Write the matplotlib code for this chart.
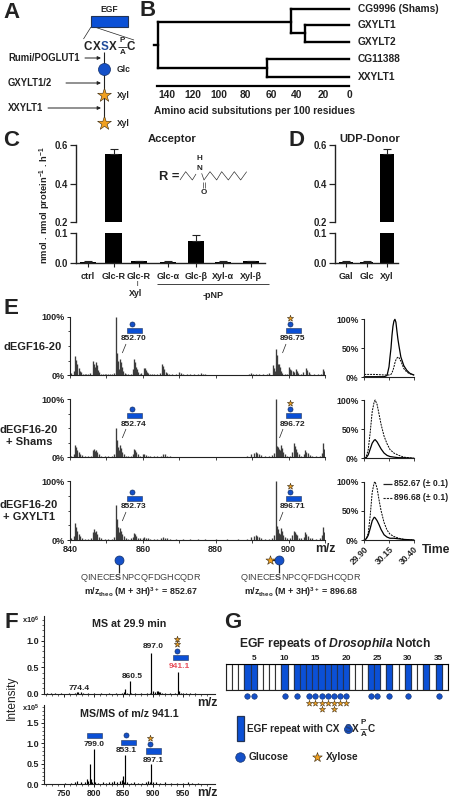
import numpy as np
import matplotlib
matplotlib.use('Agg')
import matplotlib.pyplot as plt
from matplotlib.patches import Rectangle

plt.rcParams['font.family'] = ['Liberation Sans', 'DejaVu Sans']
plt.rcParams['font.weight'] = 'bold'
plt.rcParams['axes.labelweight'] = 'bold'
plt.rcParams['mathtext.fontset'] = 'custom'
plt.rcParams['mathtext.rm'] = 'Liberation Sans:bold'
plt.rcParams['mathtext.bf'] = 'Liberation Sans:bold'
plt.rcParams['mathtext.it'] = 'Liberation Sans:italic:bold'
plt.rcParams['mathtext.default'] = 'regular'
plt.rcParams['axes.linewidth'] = 0.8

# ---------- DATA ----------
tree_ticks = [140, 120, 100, 80, 60, 40, 20, 0]
leaf_names = ['CG9996 (Shams)', 'GXYLT1', 'GXYLT2', 'CG11388', 'XXYLT1']
node_root = 147
node_upper = 45
node_gxylt = 34
node_lower = 63

acceptors = ['ctrl', 'Glc-R', 'Glc-R', 'Glc-α', 'Glc-β', 'Xyl-α', 'Xyl-β']
acceptor_vals = [0.005, 0.555, 0.006, 0.005, 0.073, 0.005, 0.006]
acceptor_err = [0.003, 0.025, 0.003, 0.002, 0.020, 0.002, 0.003]
donors = ['Gal', 'Glc', 'Xyl']
donor_vals = [0.005, 0.005, 0.555]
donor_err = [0.002, 0.002, 0.025]

ms1_mz = [840.3,841.0,841.4,841.7,842.0,842.4,842.7,843.1,843.5,844,844.5,845,845.6,846.2,846.5,846.8,847.1,847.4,847.7,848,848.5,849,849.5,850,850.5,851,851.5,852,852.6,852.8,853.1,853.4,853.7,854,854.3,854.6,855,855.5,856,856.7,857.3,857.5,857.8,858.1,858.4,858.8,859.2,859.6,860.2,860.5,860.8,861.1,861.5,862,862.5,863,864,864.7,865.3,865.6,865.9,866.3,866.7,867.2,868,869,870,870.4,871,872,873,874,875,876,876.4,877,878,880,882,884,886,888,889,889.7,890.2,891,892,893,894,894.7,895.6,895.9,896.2,896.5,896.8,897.1,897.3,897.6,897.9,898.2,899,899.5,900.2,900.5,900.8,901.2,901.6,902,902.3,902.7,903.3,904,904.8,905.1,905.5,906,907,908,908.8,909.5,909.7]
ms1_int = [4,8,33,26,20,13,8,5,3,2,2,3,4,25,19,14,23,17,9,5,3,2,2,3,3,2,3,4,100,38,25,10,27,22,14,8,4,3,2,3,10,27,22,15,10,5,3,4,13,12,9,6,4,3,2,2,2,4,20,16,11,6,4,3,2,2,5,4,3,2,3,2,2,4,3,2,1,1,1,1,1,1,2,4,3,3,2,2,2,4,17,12,8,45,34,20,20,14,8,4,2,2,15,11,9,7,6,10,7,4,3,5,12,9,6,3,2,2,3,10,7]
ms2_mz = [840.3,841,841.4,841.7,842,842.4,842.8,843.3,844,845,845.7,846.2,846.5,846.8,847.1,847.5,848,848.6,849.5,850.5,851.5,852.1,852.6,852.8,853.1,853.4,853.7,854,854.4,854.8,855.3,856,856.8,857.3,857.6,857.9,858.2,858.6,859.2,860,860.4,860.8,861.3,862,863,864,865,865.5,866,866.6,867.5,869,871,873,875,877,880,883,886,888.5,889.8,890.5,891,891.4,891.8,892.4,893.5,894.5,895.5,896,896.5,896.7,897,897.3,897.6,897.9,898,898.3,898.6,899,899.6,900.4,901,901.4,901.7,902,902.4,902.9,903.5,904.2,904.6,904.9,905.3,905.8,906.5,907.5,908.5,909.2,909.5,909.7]
ms2_int = [3,6,21,17,13,9,6,4,2,2,3,12,14,11,13,9,5,3,2,2,2,5,50,30,18,12,22,16,10,6,3,2,3,6,15,12,9,5,3,5,5,4,3,2,2,2,3,5,5,3,2,1,1,1,1,1,1,1,1,2,5,7,9,8,6,4,3,2,4,8,100,20,18,14,12,10,21,16,10,5,3,3,10,24,19,15,10,5,3,6,12,10,7,4,3,2,3,8,24,15]
ms3_mz = list(ms2_mz)
ms3_int = [3,6,28,22,16,10,6,4,2,2,3,14,18,14,15,10,5,3,2,2,2,5,59,35,22,14,20,16,10,6,3,2,3,5,12,10,7,4,3,4,5,4,3,2,2,2,3,5,4,3,2,1,1,1,1,1,1,1,1,2,5,6,8,7,5,3,2,2,4,8,100,24,18,12,10,8,20,15,9,5,3,3,8,16,14,11,8,4,3,5,14,11,7,4,3,2,3,8,22,14]

lc_t1 = [29.90,30.00,30.10,30.13,30.15,30.16,30.17,30.18,30.19,30.20,30.21,30.22,30.23,30.24,30.25,30.27,30.30,30.33,30.36,30.40]
lc1_solid = [1,1,1,3,18,35,50,72,88,97,100,95,80,66,55,35,20,12,7,4]
lc1_dash = [5,5,4,4,4,4,5,8,12,18,25,30,33,35,34,28,15,9,6,4]
lc_t2 = [29.90,29.92,29.94,29.96,29.98,30.00,30.01,30.03,30.05,30.07,30.10,30.13,30.16,30.20,30.25,30.30,30.40]
lc2_dash = [0,3,15,45,80,97,100,92,75,58,38,25,15,9,5,2,0]
lc2_solid = [0,1,6,16,26,31,32,28,22,16,9,5,3,2,1,1,0]
lc3_dash = [0,2,12,42,82,98,100,88,68,50,30,17,10,6,3,1,0]
lc3_solid = [0,2,8,20,33,39,38,33,26,18,9,5,3,3,2,1,0]
lc_ticks = [29.90, 30.15, 30.40]

msf_mz = [722,728,735,745,758,768,772,774.4,778,782,790,800,812,825,838,847,851,853,856,860.5,863,870,880,890,894,897,899,903,906,908,910,912,915,920,928,936,941,943,946,950,955,962,970]
msf_int = [.02,.01,.01,.01,.01,.02,.03,.04,.03,.02,.01,.01,.01,.01,.01,.02,.03,.08,.02,.24,.02,.01,.01,.01,.02,.77,.05,.03,.05,.06,.04,.03,.02,.02,.01,.02,.42,.05,.02,.02,.02,.01,.01]
msms_mz = [745,752,762,768,772,778,785,789,791,793.6,795,797,800,803,808,815,820,825,830,835,840,845,847,849,851,853,856,862,868,875,882,888,892,894,897,899,905,912,920,930,940,950,958,965,975]
msms_int = [.01,.02,.03,.05,.07,.04,.05,.12,.08,.49,.13,.04,.87,.05,.03,.04,.03,.05,.04,.07,.04,.08,.10,.19,.06,.72,.05,.03,.04,.02,.03,.04,.08,.05,.50,.06,.04,.03,.04,.03,.02,.03,.05,.03,.02]

egf_total = 36
egf_blue = [4,5,10,12,13,14,15,16,17,18,19,20,24,25,27,30,33,35]
egf_glc = [4,5,10,12,14,15,16,17,18,19,20,24,25,27,30,35]
egf_xyl1 = [14,15,16,17,18,19,20]
egf_xyl2 = [16,18]
egf_labels = [5,10,15,20,25,30,35]

# ---------- STYLE / HELPERS ----------
W, H = 453, 800
FS = 1.16
INK = '#222222'
BLUE = '#0b50d6'
GLC = '#1550c8'
GOLD = '#f0a020'
fig = plt.figure(figsize=(W/100, H/100), dpi=100)


def axpx(x0, y0, x1, y1, **kw):
    a = fig.add_axes([x0/W, 1-y1/H, (x1-x0)/W, (y1-y0)/H], **kw)
    a.patch.set_alpha(0)
    for s in ['top', 'right']:
        a.spines[s].set_visible(False)
    for s in ['left', 'bottom']:
        a.spines[s].set_color(INK)
    return a


ov = fig.add_axes([0, 0, 1, 1], zorder=20)
ov.set_xlim(0, W)
ov.set_ylim(H, 0)
ov.axis('off')


def T(x, y, s, size=6, ha='center', va='center', color=INK, **kw):
    return ov.text(x, y, s, fontsize=size*FS, ha=ha, va=va, color=color, **kw)


def L(xs, ys, lw=0.8, color=INK, **kw):
    ov.plot(xs, ys, lw=lw, color=color, solid_capstyle='butt', **kw)


def rect(x0, y0, x1, y1, lw=0.7):
    ov.add_patch(Rectangle((x0, y0), x1-x0, y1-y0, fc=BLUE, ec='#223355', lw=lw, zorder=5))


def circ(x, y, d):
    ov.scatter([x], [y], s=(d*.72)**2, c=GLC, edgecolors='#12306a', linewidths=0.5, zorder=6)


def star(x, y, d):
    ov.scatter([x], [y], s=(d*.72)**2, c=GOLD, marker='*', edgecolors='#3a2a10', linewidths=0.4, zorder=6)


def arrow(x0, x1, y):
    ov.annotate('', xy=(x1, y), xytext=(x0, y),
                arrowprops=dict(arrowstyle='-|>', color=INK, lw=0.7, mutation_scale=5, shrinkA=0, shrinkB=0))


for lab, x, y in [('A', 11, 12), ('B', 148, 11), ('C', 11, 141), ('D', 297, 141),
                  ('E', 11, 308), ('F', 11, 622), ('G', 233, 622)]:
    T(x, y, lab, size=13.8)

# ---------- A ----------
T(109, 9, 'EGF', 5.3)
rect(91, 16, 127.5, 26.5, lw=0.8)
L([91, 83.5], [27, 39], lw=0.5)
L([96, 134], [27.5, 40], lw=0.5)
for x, s, c in [(87.5, 'C', INK), (96.5, 'X', INK), (104.3, 'S', '#1f4a9a'), (112.7, 'X', INK), (131, 'C', INK)]:
    T(x, 47, s, 7.2, color=c)
T(122.5, 40.5, 'P', 5)
T(122.5, 53, 'A', 5)
L([118, 127], [46.7, 46.7], lw=0.6)
L([104.3, 104.3], [52, 123], lw=0.8)
circ(104.3, 69, 12)
star(104.3, 95, 14.5)
star(104.3, 123, 14.5)
T(117, 69, 'Glc', 5.3, ha='left')
T(117, 95, 'Xyl', 5.3, ha='left')
T(117, 123, 'Xyl', 5.3, ha='left')
T(8, 58, 'Rumi/POGLUT1', 5.9, ha='left')
T(8, 83, 'GXYLT1/2', 5.9, ha='left')
T(8, 108, 'XXYLT1', 5.9, ha='left')
arrow(85, 101, 58)
arrow(66, 101, 83)
arrow(48, 101, 108)

# ---------- B ----------
axb = axpx(157, 2, 349, 86)
axb.set_xlim(147.7, 0)
axb.set_ylim(84, 0)
lv = [6.5, 22.5, 40, 57, 75]   # row placement of the five leaves
tw = dict(color='black', lw=1.7, solid_capstyle='projecting', clip_on=False)
top_mid = (lv[1]+lv[2])/2
axb.plot([node_upper, 0], [lv[0], lv[0]], **tw)
axb.plot([node_gxylt, 0], [lv[1], lv[1]], **tw)
axb.plot([node_gxylt, 0], [lv[2], lv[2]], **tw)
axb.plot([node_lower, 0], [lv[3], lv[3]], **tw)
axb.plot([node_lower, 0], [lv[4], lv[4]], **tw)
axb.plot([node_gxylt, node_gxylt], [lv[1], lv[2]], **tw)
axb.plot([node_upper, node_gxylt], [top_mid, top_mid], **tw)
axb.plot([node_upper, node_upper], [lv[0], top_mid], **tw)
axb.plot([node_lower, node_lower], [lv[3], lv[4]], **tw)
axb.plot([node_root, node_upper], [20, 20], **tw)
axb.plot([node_root, node_lower], [66, 66], **tw)
axb.plot([node_root, node_root], [20, 66], **tw)
axb.plot([node_root+3, node_root], [43, 43], **tw)
for n, y in zip(leaf_names, lv):
    axb.text(-7, y, n, fontsize=6.3*FS, va='center', ha='left', color=INK, clip_on=False)
axb.spines['left'].set_visible(False)
axb.spines['bottom'].set_linewidth(1.6)
axb.spines['bottom'].set_color('black')
axb.set_yticks([])
axb.set_xticks(tree_ticks)
axb.set_xticklabels(tree_ticks, fontsize=6.4*FS, color=INK)
axb.tick_params(axis='x', length=0, pad=3)
T(254, 110.7, 'Amino acid subsitutions per 100 residues', 6.3)

# ---------- C / D ----------
def bars(x0, x1, names, vals, errs, slots, unit, first_px, width):
    xl = ((x0-first_px)/unit, (x1-first_px)/unit)
    up = axpx(x0, 145, x1, 222)
    lo = axpx(x0, 233.3, x1, 263.3)
    for a, lim in ((up, (0.2, 0.6)), (lo, (0, 0.1))):
        a.bar(slots, vals, width=width, color='black')
        a.errorbar(slots, vals, yerr=[np.zeros(len(vals)), errs], fmt='none', ecolor=INK,
                   elinewidth=0.8, capsize=2.6, capthick=0.8)
        a.set_xlim(*xl)
        a.set_ylim(*lim)
        a.tick_params(axis='y', length=4, width=0.9, labelsize=6*FS, pad=1.5, labelcolor=INK, color=INK)
        a.spines['left'].set_linewidth(1)
    up.spines['bottom'].set_visible(False)
    up.set_xticks([])
    up.set_yticks([0.2, 0.4, 0.6])
    lo.set_yticks([0.0, 0.1])
    lo.spines['bottom'].set_linewidth(1)
    lo.set_xticks(slots)
    lo.set_xticklabels(names, fontsize=5.6*FS, color=INK)
    lo.tick_params(axis='x', length=3, width=0.8, pad=3, color=INK)


bars(76, 265, acceptors, acceptor_vals, acceptor_err, [0, 1, 2, 3.15, 4.25, 5.3, 6.4], 25.5, 88, 0.63)
bars(335, 398, donors, donor_vals, donor_err, [0, 1, 2], 20.5, 346, 0.66)
T(172, 139, 'Acceptor', 7)
T(370, 139, 'UDP-Donor', 7)
T(45, 205, r'nmol . nmol protein$^{-1}$ . h$^{-1}$', 5.8, rotation=90)
T(137, 284, '|', 3)
T(136, 293, 'Xyl', 5.5)
L([157, 269], [284, 284], lw=0.6)
T(213, 296, '-pNP', 5.6)
T(159, 177, 'R =', 8, ha='left')
zx = [540, 557, 577, 588]
zy = [150, 125, 150, 132]
L([x/3 for x in zx], [130+y/3 for y in zy], lw=0.45)
zx = [605, 612, 630, 650, 665, 685, 703, 722, 740]
zy = [130, 150, 125, 150, 125, 150, 125, 150, 125]
L([x/3 for x in zx], [130+y/3 for y in zy], lw=0.45)
T(199, 159, 'H', 5)
T(199, 169, 'N', 5)
T(204, 193, 'O', 5)
L([203, 203], [182, 188], lw=0.45)
L([205, 205], [182, 188], lw=0.45)

# ---------- E spectra ----------
def spectrum(top, bottom, mz, inten, labelled):
    a = axpx(70, top, 325, bottom)
    a.vlines(mz, 0, inten, color='#3c3c3c', lw=0.95)
    a.plot([840, 910], [0.7, 0.7], color='black', lw=0.6)
    a.set_xlim(840, 910)
    a.set_ylim(0, 100)
    a.set_yticks([0, 100])
    a.set_yticks([25, 50, 75], minor=True)
    a.set_yticklabels(['0%', '100%'], fontsize=5.6*FS, color=INK)
    a.set_xticks([840, 850, 860, 870, 880, 890, 900, 910])
    a.tick_params(axis='y', which='major', length=2.2, width=0.7, pad=1.5, color=INK)
    a.tick_params(axis='y', which='minor', length=1.4, width=0.6, color=INK)
    a.tick_params(axis='x', length=1.8, width=0.6, pad=2, color=INK)
    if labelled:
        a.set_xticklabels(['840', '', '860', '', '880', '', '900', ''], fontsize=5.6*FS, color=INK)
    else:
        a.set_xticklabels([])


spectrum(316.7, 375.3, ms1_mz, ms1_int, False)
spectrum(399.3, 457.3, ms2_mz, ms2_int, False)
spectrum(481, 540, ms3_mz, ms3_int, True)
T(33, 347, 'dEGF16-20', 6.9)
T(29, 430, 'dEGF16-20', 6.9)
T(29, 442, '+ Shams', 6.9)
T(29, 505, 'dEGF16-20', 6.9)
T(29, 517, '+ GXYLT1', 6.9)
T(325, 549, 'm/z', 7.6)
T(436.5, 550, 'Time', 7.6)

for ry, lab1, lab2, dy2 in [(328, '852.70', '896.75', 0), (413, '852.74', '896.72', 1), (496, '852.73', '896.71', 1)]:
    rect(127, ry, 142.3, ry+5.4, lw=0.4)
    circ(131.7, ry-4, 5)
    rect(285.7, ry, 301, ry+5.4, lw=0.4)
    circ(290, ry-4, 5)
    star(290, ry-10.5, 6.5)
    T(134, ry+11, lab1, 5.2)
    T(293, ry+11, lab2, 5.2)
    L([126, 122.3], [ry+16, ry+25], lw=0.5)
    L([286-dy2*3, 282.5-dy2*3], [ry+16, ry+25], lw=0.5)

# peptides
for cx, xs in [(140.7, False), (301, True)]:
    gx = 119 if not xs else 279
    L([gx, gx], [560, 573], lw=0.9)
    circ(gx, 560, 9)
    if xs:
        L([gx-9, gx], [560, 560], lw=0.9)
        star(gx-9.5, 560, 9.5)
    T(cx, 578, r'QINECE$\mathbf{S}$NPCQFDGHCQDR', 5.7, weight='normal', color='#444444')
    y2 = '852.67' if not xs else '896.68'
    T(cx, 592, r'm/z$_{\mathbf{theo}}$ (M + 3H)$^{3+}$ = '+y2, 5.5)

# ---------- E chromatograms ----------
def chrom(top, bottom, t, solid, dash, labelled):
    a = axpx(364.3, top, 413.7, bottom)
    a.plot(t, solid, color='black', lw=0.9, clip_on=False)
    a.plot(t, dash, color='black', lw=0.7, ls=(0, (2, 1)), clip_on=False)
    a.set_xlim(29.90, 30.40)
    a.set_ylim(0, 100)
    a.set_yticks([0, 50, 100])
    a.set_yticklabels(['0%', '50%', '100%'], fontsize=5.4*FS, color=INK)
    a.set_xticks(lc_ticks)
    a.tick_params(axis='y', length=2.5, width=0.7, pad=1.5, color=INK)
    a.tick_params(axis='x', length=1.8, width=0.6, pad=1.5, color=INK)
    if labelled:
        a.set_xticklabels([f'{v:.2f}' for v in lc_ticks], fontsize=5.4*FS, rotation=45,
                          ha='right', rotation_mode='anchor', color=INK)
    else:
        a.set_xticklabels([])


chrom(319.3, 377.3, lc_t1, lc1_solid, lc1_dash, False)
chrom(400, 458.3, lc_t2, lc2_solid, lc2_dash, False)
chrom(481.7, 540, lc_t2, lc3_solid, lc3_dash, True)
L([383, 392], [484, 484], lw=0.9)
ov.plot([383, 392], [497.7, 497.7], color=INK, lw=0.8, ls=(0, (2, 1)))
T(394, 484, '852.67 (± 0.1)', 5.4, ha='left')
T(394, 497.7, '896.68 (± 0.1)', 5.4, ha='left')

# ---------- F ----------
def sticks(top, bottom, ymax, mz, inten, yt, labelled):
    a = axpx(44.3, top, 215, bottom)
    a.vlines(mz, 0, inten, color='black', lw=0.85)
    a.set_xlim(717, 1004)
    a.set_ylim(0, ymax)
    a.set_yticks(yt)
    a.set_yticks(np.arange(0, ymax, 0.1), minor=True)
    a.set_yticklabels([f'{v:.1f}' for v in yt], fontsize=5.6*FS, color=INK)
    a.set_xticks([750, 800, 850, 900, 950])
    a.set_xticks(np.arange(720, 1000, 10), minor=True)
    a.tick_params(axis='both', which='major', length=2.4, width=0.7, pad=1.5, color=INK)
    a.tick_params(axis='both', which='minor', length=1.2, width=0.5, color=INK)
    if labelled:
        a.set_xticklabels(['750', '800', '850', '900', '950'], fontsize=5.3*FS, color=INK)
    else:
        a.set_xticklabels([])


sticks(616, 693.7, 1.47, msf_mz, msf_int, [0.0, 0.5, 1.0], False)
sticks(705, 784, 1.94, msms_mz, msms_int, [0.0, 0.5, 1.0, 1.5], True)
T(12, 698, 'Intensity', 7.4, rotation=90, weight='normal')
T(22, 620.5, r'x10$^{6}$', 4.6, ha='left')
T(22, 708.5, r'x10$^{5}$', 4.6, ha='left')
T(129, 624, 'MS at 29.9 min', 6.6)
T(129, 714, 'MS/MS of m/z 941.1', 6.6)
T(153, 647, '897.0', 5.2)
T(132, 676, '860.5', 5.2)
T(79, 688, '774.4', 5.2)
T(179.5, 666, '941.1', 5.2, color='#e8505b')
rect(172.5, 654.5, 187.5, 660, lw=0.4)
circ(176.7, 650.5, 5)
star(176.7, 644.3, 6.5)
star(176.7, 639.3, 6.5)
T(207, 702.5, 'm/z', 7.6)
T(207, 793.5, 'm/z', 7.6)
rect(86.5, 733, 101.5, 738.3, lw=0.4)
T(94, 744, '799.0', 5.2)
rect(121, 739.7, 136, 745, lw=0.4)
circ(125.7, 735.3, 5)
T(126.3, 750.5, '853.1', 5.2)
rect(145.7, 748.3, 160.7, 754, lw=0.4)
circ(150, 744, 5)
star(150, 738, 6.5)
T(153.3, 760, '897.1', 5.2)

# ---------- G ----------
axg = axpx(225.9, 664.3, 448, 690)
axg.set_xlim(0.5, egf_total+0.5)
axg.set_ylim(0, 1)
axg.bar(range(1, egf_total+1), [1]*egf_total, width=1, color='white', edgecolor='#333333', lw=0.8)
axg.bar(egf_blue, [1]*len(egf_blue), width=1, color=BLUE, edgecolor='#223355', lw=0.8)
axg.spines['top'].set_visible(True)
axg.spines['right'].set_visible(True)
axg.set_xticks(egf_labels)
axg.xaxis.tick_top()
axg.set_xticklabels(egf_labels, fontsize=5.2*FS, color=INK)
axg.tick_params(axis='x', length=0, pad=2)
axg.set_yticks([])
axg.scatter(egf_glc, [-0.22]*len(egf_glc), s=(5.5*.72)**2, c=GLC, edgecolors='#12306a', linewidths=0.4, clip_on=False)
axg.scatter(egf_xyl1, [-0.49]*len(egf_xyl1), s=(6.5*.72)**2, c=GOLD, marker='*', edgecolors='#3a2a10', linewidths=0.35, clip_on=False)
axg.scatter(egf_xyl2, [-0.73]*len(egf_xyl2), s=(6.5*.72)**2, c=GOLD, marker='*', edgecolors='#3a2a10', linewidths=0.35, clip_on=False)
ov.text(335, 644, r'EGF repeats of $\mathit{Drosophila}$ Notch', fontsize=7.5*FS, ha='center', va='center', color=INK)
rect(236.7, 715.5, 243.8, 741, lw=0.9)
T(246.7, 729, 'EGF repeat with CX', 6.2, ha='left')
circ(348, 729, 8)
T(348, 729, 'S', 6.2, zorder=8, color='#1f3f80')
T(355, 729, 'X', 6.2)
T(363.5, 722, 'P', 5)
T(363.5, 734, 'A', 5)
L([360, 367], [728.5, 728.5], lw=0.5)
T(371.5, 729, 'C', 6.2)
circ(240.3, 756.7, 9.5)
T(249, 757.5, 'Glucose', 6.3, ha='left')
star(317.3, 756.7, 10)
T(325.5, 757.5, 'Xylose', 6.3, ha='left')

fig.savefig('out.png', dpi=100)
